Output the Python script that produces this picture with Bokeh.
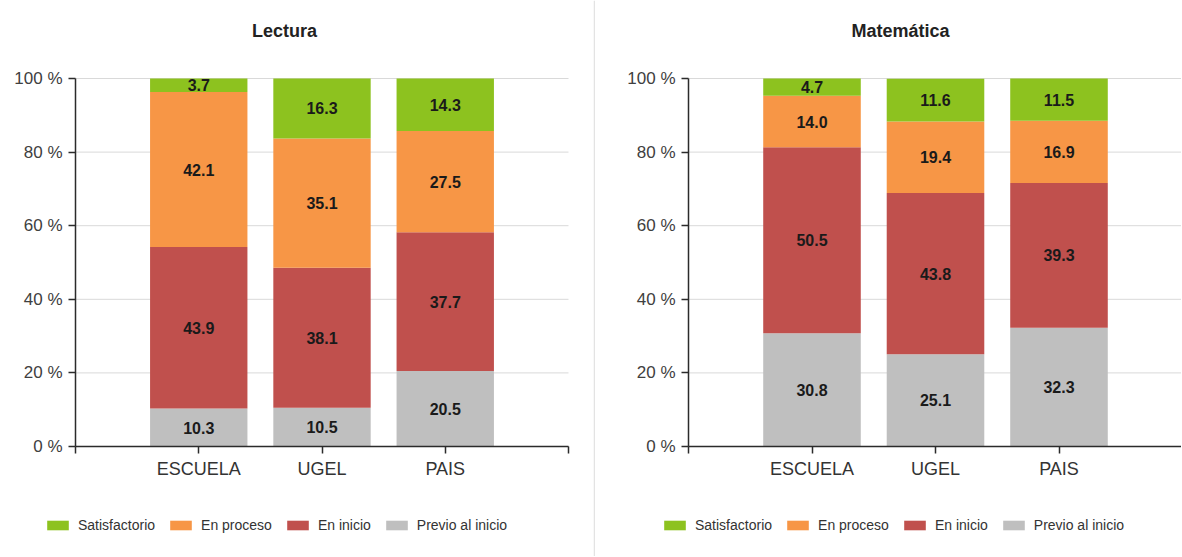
import numpy as np
from bokeh.plotting import figure
from bokeh.layouts import row
from bokeh.models import (Range1d, FixedTicker, Legend, LegendItem, Label,
                          ColumnDataSource, LinearAxis, Span)
from bokeh.core.properties import value
from bokeh.embed import file_html
from bokeh.resources import INLINE

# ---- data ----
categories = ["ESCUELA", "UGEL", "PAIS"]
levels = ["Satisfactorio", "En proceso", "En inicio", "Previo al inicio"]
colors = ["#8DC21F", "#F79646", "#C0504D", "#BFBFBF"]

lectura_satisfactorio = [3.7, 16.3, 14.3]
lectura_proceso = [42.1, 35.1, 27.5]
lectura_inicio = [43.9, 38.1, 37.7]
lectura_previo = [10.3, 10.5, 20.5]

mate_satisfactorio = [4.7, 11.6, 11.5]
mate_proceso = [14.0, 19.4, 16.9]
mate_inicio = [50.5, 43.8, 39.3]
mate_previo = [30.8, 25.1, 32.3]

y_ticks = [0, 20, 40, 60, 80, 100]

FONT = "Liberation Sans"
H = 556
Y_TOP_PX = 78      # pixel row of 100 %
Y_BOT_PX = 446     # pixel row of 0 %


def make_panel(title, series, width, axis_px, unit, axis_end, x_ticks,
               title_px, legend_px, sep_px=None):
    x_start = -1 - axis_px / unit
    x_end = x_start + width / unit
    yunit = (Y_BOT_PX - Y_TOP_PX) / 100.0
    y_end = 100 + Y_TOP_PX / yunit
    y_start = -(H - Y_BOT_PX) / yunit
    if axis_end is None:
        axis_end = x_end

    p = figure(width=width, height=H, output_backend="svg", toolbar_location=None,
               x_range=Range1d(x_start, x_end), y_range=Range1d(y_start, y_end),
               x_axis_location=None, y_axis_location=None,
               min_border_left=0, min_border_right=0,
               min_border_top=0, min_border_bottom=0)
    p.outline_line_color = None
    p.background_fill_color = "white"
    p.border_fill_color = "white"
    p.xgrid.grid_line_color = None
    p.ygrid.grid_line_color = None

    # grid lines (from the y ticks)
    p.segment(x0=[-1] * len(y_ticks), x1=[axis_end] * len(y_ticks),
              y0=y_ticks, y1=y_ticks, line_color="#d9d9d9", line_width=1)

    if sep_px is not None:
        p.add_layout(Span(location=x_start + sep_px / unit, dimension="height",
                          line_color="#e3e3e3", line_width=1.5))

    xs = np.arange(len(categories))
    order = [3, 2, 1, 0]  # stack from bottom
    bottom = np.zeros(len(categories))
    renderers = {}
    for idx in order:
        vals = np.array(series[idx], dtype=float)
        top = bottom + vals
        src = ColumnDataSource(dict(x=xs, bottom=bottom.copy(), top=top,
                                    mid=(bottom + top) / 2,
                                    txt=["%.1f" % v for v in vals]))
        r = p.vbar(x="x", bottom="bottom", top="top", width=0.79, source=src,
                   fill_color=colors[idx], line_color=None)
        renderers[idx] = r
        p.text(x="x", y="mid", text="txt", source=src, text_align="center",
               text_baseline="middle", text_font=value(FONT), text_font_size="16px",
               text_font_style="bold", text_color="#1a1a1a")
        bottom = top

    # x axis at y = 0
    overrides = {t: "" for t in x_ticks}
    for i, c in enumerate(categories):
        overrides[i] = c
    xaxis = LinearAxis(fixed_location=0, bounds=(-1, axis_end),
                       ticker=FixedTicker(ticks=x_ticks),
                       major_label_overrides=overrides,
                       major_label_text_font=FONT,
                       major_label_text_font_size="18px",
                       major_label_text_color="#333333",
                       major_label_standoff=5,
                       major_tick_in=0, major_tick_out=7,
                       minor_tick_line_color=None,
                       axis_line_color="#2b2b2b", axis_line_width=1.5,
                       major_tick_line_color="#2b2b2b", major_tick_line_width=1.5)
    p.add_layout(xaxis, "below")

    yaxis = LinearAxis(fixed_location=-1, bounds=(0, 100),
                       ticker=FixedTicker(ticks=y_ticks),
                       major_label_overrides={t: "%d %%" % t for t in y_ticks},
                       major_label_text_font=FONT,
                       major_label_text_font_size="17px",
                       major_label_text_color="#404040",
                       major_label_standoff=6,
                       major_tick_in=0, major_tick_out=7,
                       minor_tick_line_color=None,
                       axis_line_color="#2b2b2b", axis_line_width=1.5,
                       major_tick_line_color="#2b2b2b", major_tick_line_width=1.5)
    p.add_layout(yaxis, "left")

    # title
    p.add_layout(Label(x=title_px, y=H - 30, x_units="screen", y_units="screen",
                       text=title, text_font=FONT, text_font_size="18px",
                       text_font_style="bold", text_color="#222222",
                       text_align="center", text_baseline="middle"))

    legend = Legend(items=[LegendItem(label=levels[i], renderers=[renderers[i]])
                           for i in range(4)],
                    location=(legend_px, H - 535), orientation="horizontal",
                    glyph_width=27, glyph_height=12, label_standoff=7, spacing=12,
                    padding=0, margin=0, border_line_alpha=0,
                    background_fill_alpha=0, label_text_font=FONT,
                    label_text_font_size="14px", label_text_color="#333333",
                    label_height=20)
    p.add_layout(legend)
    return p


p1 = make_panel("Lectura",
                [lectura_satisfactorio, lectura_proceso, lectura_inicio, lectura_previo],
                width=595, axis_px=75, unit=123.25, axis_end=3.0,
                x_ticks=[-1, 0, 1, 2, 3], title_px=284, legend_px=44, sep_px=594)
p2 = make_panel("Matemática",
                [mate_satisfactorio, mate_proceso, mate_inicio, mate_previo],
                width=586, axis_px=93, unit=123.5, axis_end=None,
                x_ticks=[-1, 0, 1, 2], title_px=305, legend_px=66)

layout = row(p1, p2, spacing=0)

open("out.html", "w").write(file_html(layout, INLINE))
